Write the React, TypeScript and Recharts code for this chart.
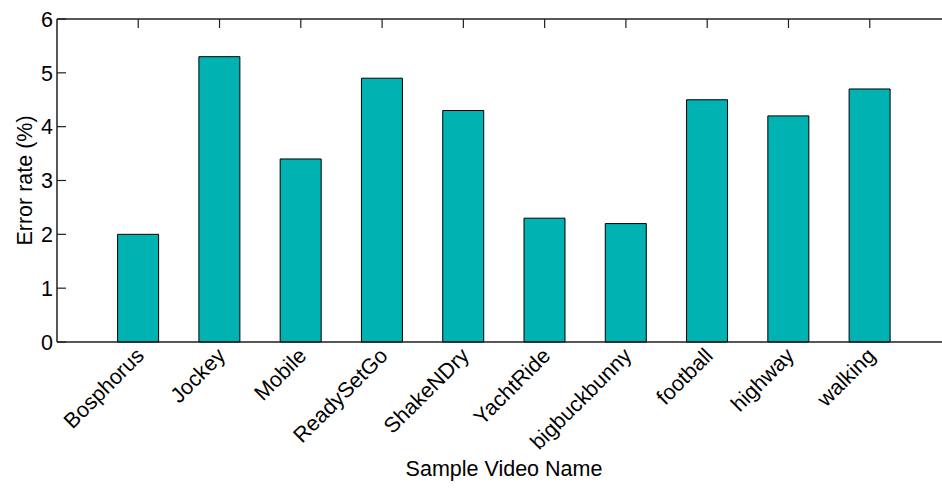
import React from "react";
import { BarChart, Bar, XAxis, YAxis, Label } from "recharts";

// Sample video clips and their measured error rates (%)
const videoNames = [
  "Bosphorus",
  "Jockey",
  "Mobile",
  "ReadySetGo",
  "ShakeNDry",
  "YachtRide",
  "bigbuckbunny",
  "football",
  "highway",
  "walking",
];
const errorRates = [2.0, 5.3, 3.4, 4.9, 4.3, 2.3, 2.2, 4.5, 4.2, 4.7];
const yTicks = [0, 1, 2, 3, 4, 5, 6];

const data = videoNames.map((name, i) => ({ name, rate: errorRates[i] }));

const FONT = "'Liberation Sans', Arial, Helvetica, sans-serif";
const FONT_SIZE = 21.5;
const AXIS_COLOR = "#1f1f1f";
const BAR_FILL = "#00b2b2";
const TICK_LEN = 9;

// Left axis tick labels
const LeftTick = (props: any) => {
  const { x, y, payload } = props;
  return (
    <text
      x={x}
      y={y}
      dy="0.36em"
      textAnchor="end"
      fontFamily={FONT}
      fontSize={FONT_SIZE}
      fill="#000"
    >
      {payload.value}
    </text>
  );
};

// Bottom axis: category names rotated 45 degrees
const BottomTick = (props: any) => {
  const { x, y, payload } = props;
  const ax = x + 7;
  const ay = y + 15;
  return (
    <text
      x={ax}
      y={ay}
      textAnchor="end"
      transform={`rotate(-45, ${ax}, ${ay})`}
      fontFamily={FONT}
      fontSize={FONT_SIZE}
      fill="#000"
    >
      {payload.value}
    </text>
  );
};

const noLabel = () => null;

const App = () => {
  return (
    <div
      style={{
        position: "fixed",
        left: 0,
        top: 0,
        width: 942,
        height: 489,
        overflow: "hidden",
        background: "#fff",
      }}
    >
      <BarChart
        width={960}
        height={489}
        data={data}
        margin={{ top: 18, right: 8, bottom: 0, left: 0 }}
      >
        <XAxis
          dataKey="name"
          xAxisId="bottom"
          orientation="bottom"
          height={147}
          padding={{ left: 40.6, right: 40.6 }}
          axisLine={{ stroke: AXIS_COLOR, strokeWidth: 1.5 }}
          tickLine={false}
          tickSize={0}
          tickMargin={0}
          interval={0}
          tick={<BottomTick />}
        >
          <Label
            content={(p: any) => {
              const vb = p.viewBox;
              return (
                <text
                  x={vb.x + vb.width / 2}
                  y={476}
                  textAnchor="middle"
                  fontFamily={FONT}
                  fontSize={FONT_SIZE}
                  fill="#000"
                >
                  Sample Video Name
                </text>
              );
            }}
          />
        </XAxis>
        <XAxis
          dataKey="name"
          xAxisId="top"
          orientation="top"
          height={1}
          padding={{ left: 40.6, right: 40.6 }}
          axisLine={{ stroke: AXIS_COLOR, strokeWidth: 1.5 }}
          tickLine={{ stroke: AXIS_COLOR, strokeWidth: 1.2 }}
          tickSize={-TICK_LEN}
          tickMargin={0}
          interval={0}
          tick={noLabel}
        />
        <YAxis
          yAxisId="left"
          orientation="left"
          width={57}
          type="number"
          domain={[0, 6]}
          ticks={yTicks}
          interval={0}
          axisLine={{ stroke: AXIS_COLOR, strokeWidth: 1.5 }}
          tickLine={{ stroke: AXIS_COLOR, strokeWidth: 1.2 }}
          tickSize={-TICK_LEN}
          tickMargin={TICK_LEN + 4}
          tick={<LeftTick />}
        >
          <Label
            content={(p: any) => {
              const vb = p.viewBox;
              const cx = 24;
              const cy = vb.y + vb.height / 2;
              return (
                <text
                  x={cx}
                  y={cy}
                  textAnchor="middle"
                  dy="0.36em"
                  transform={`rotate(-90, ${cx}, ${cy})`}
                  fontFamily={FONT}
                  fontSize={FONT_SIZE}
                  fill="#000"
                >
                  Error rate (%)
                </text>
              );
            }}
          />
        </YAxis>
        <YAxis
          yAxisId="right"
          orientation="right"
          width={1}
          type="number"
          domain={[0, 6]}
          ticks={yTicks}
          interval={0}
          axisLine={{ stroke: AXIS_COLOR, strokeWidth: 1.5 }}
          tickLine={{ stroke: AXIS_COLOR, strokeWidth: 1.2 }}
          tickSize={-TICK_LEN}
          tickMargin={0}
          tick={noLabel}
        />
        <Bar
          dataKey="rate"
          xAxisId="bottom"
          yAxisId="left"
          barSize={41}
          fill={BAR_FILL}
          stroke="#000"
          strokeWidth={1}
          isAnimationActive={false}
        />
      </BarChart>
    </div>
  );
};

export default App;
